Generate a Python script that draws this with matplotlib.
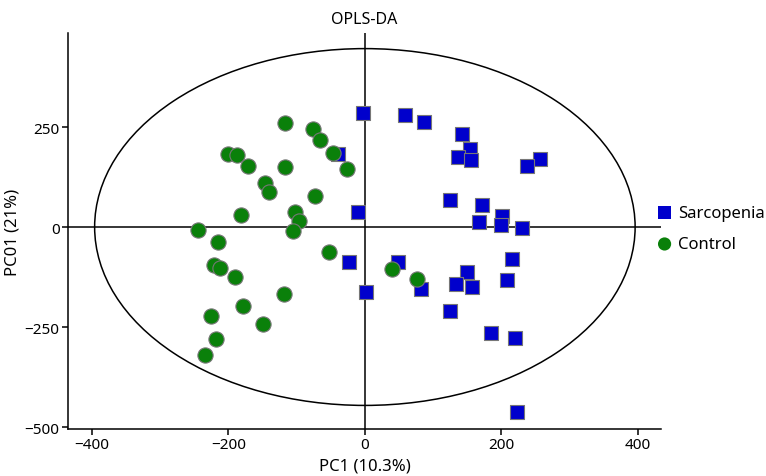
import matplotlib
matplotlib.use("Agg")
import matplotlib.pyplot as plt
from matplotlib.patches import Ellipse

plt.rcParams['font.family'] = ['Noto Sans', 'DejaVu Sans']

# ---- data ----
sarc_x = [-3, 59, 86, 142, 154, 137, 156, 256, 238, -40, -10, 125, 171, 201, 167,
          200, 230, -23, 49, 82, 2, 150, 134, 157, 215, 208, 125, 185, 220, 223]
sarc_y = [285, 281, 262, 232, 196, 174, 168, 170, 152, 182, 37, 68, 54, 27, 12,
          6, -2, -87, -88, -155, -162, -112, -143, -150, -80, -132, -210, -266, -278, -462]
ctrl_x = [-117, -76, -66, -47, -26, -201, -188, -171, -117, -146, -140, -73, -182, -245, -215,
          -221, -213, -190, -179, -226, -218, -235, -103, -97, -106, -52, 40, 76, -119, -150]
ctrl_y = [260, 245, 218, 185, 145, 182, 180, 152, 150, 110, 88, 78, 29, -8, -38,
          -94, -102, -125, -198, -222, -279, -321, 38, 16, -11, -63, -104, -131, -168, -242]
ellipse_center = (0, 0)
ellipse_rx = 396
ellipse_ry = 446
x_ticks = [-400, -200, 0, 200, 400]
y_ticks = [-500, -250, 0, 250]
title = "OPLS-DA"
x_label = "PC1 (10.3%)"
y_label = "PC01 (21%)"
labels = ["Sarcopenia", "Control"]

# ---- figure ----
fig = plt.figure(figsize=(7.66, 4.77), dpi=100)
ax = fig.add_axes([0.0888, 0.0985, 0.863 - 0.0888, 0.9287 - 0.0985])

ax.axhline(0, color='black', lw=1.1, zorder=1)
ax.axvline(0, color='black', lw=1.1, zorder=1)
ax.add_patch(Ellipse(ellipse_center, 2 * ellipse_rx, 2 * ellipse_ry, fill=False,
                     edgecolor='black', lw=1.1, zorder=1))

ax.scatter(sarc_x, sarc_y, marker='s', s=95, c='#0000CC', edgecolors='#777777',
           linewidths=0.8, zorder=3, label=labels[0])
ax.scatter(ctrl_x, ctrl_y, marker='o', s=120, c='#0A800A', edgecolors='#777777',
           linewidths=0.8, zorder=4, label=labels[1])

ax.set_xlim(-435, 434)
ax.set_ylim(-505, 485)
ax.set_xticks(x_ticks)
ax.set_yticks(y_ticks)
for s in ['top', 'right']:
    ax.spines[s].set_visible(False)
for s in ['left', 'bottom']:
    ax.spines[s].set_linewidth(1.1)
ax.tick_params(axis='both', direction='out', length=4, width=1.1, labelsize=11,
               colors='black', pad=2)
ax.set_title(title, fontsize=11.5, pad=7)
ax.set_xlabel(x_label, fontsize=12, labelpad=4)
ax.set_ylabel(y_label, fontsize=12, labelpad=3)

leg = fig.legend(loc='center left', bbox_to_anchor=(0.848, 0.519), frameon=False,
                 fontsize=12, handletextpad=0.3, labelspacing=0.95, borderaxespad=0,
                 handlelength=1.0)
for h in leg.legend_handles:
    h.set_edgecolor('none')
    h.set_sizes([90])

fig.savefig("out.png", dpi=100)
